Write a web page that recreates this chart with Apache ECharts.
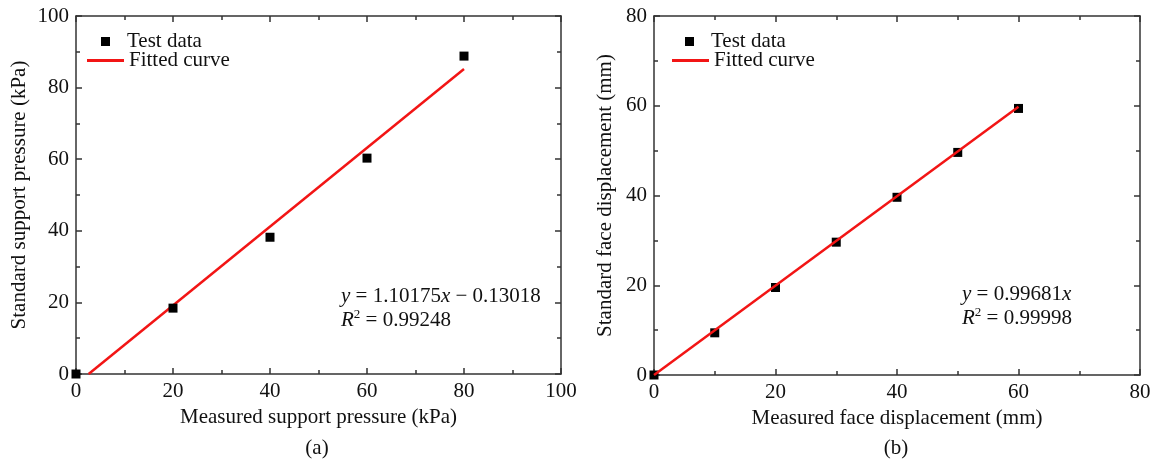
<!DOCTYPE html>
<html>
<head>
<meta charset="utf-8">
<script src="https://cdn.jsdelivr.net/npm/echarts@6/dist/echarts.min.js"></script>
<style>
  html, body { margin: 0; padding: 0; background: #fff; }
  #chart { width: 1159px; height: 460px; }
</style>
</head>
<body>
<div id="chart"></div>
<script>
// (a) support pressure calibration
const pressureMeasured = [0, 20, 40, 60, 80];
const pressureStandard = [0, 18.4, 38.2, 60.3, 88.8];
const pressureFitX = [2.6, 80];
const pressureFitY = [0, 85.2];

// (b) face displacement calibration
const dispMeasured = [0, 10, 20, 30, 40, 50, 60];
const dispStandard = [0, 9.4, 19.5, 29.6, 39.6, 49.6, 59.4];
const dispFitX = [0, 60];
const dispFitY = [0, 59.8];

const pressureTicks = { min: 0, max: 100, interval: 20 };
const dispTicks = { min: 0, max: 80, interval: 20 };

const FONT = '"Liberation Serif", "Times New Roman", serif';
const FS = 21;
const AXIS_COLOR = '#333';
const TEXT_COLOR = '#111';
const RED = '#f21515';

const pairs = (xs, ys) => xs.map((x, i) => [x, ys[i]]);

function mainAxis(gridIndex, ticks, name, nameGap, position) {
  return {
    type: 'value', gridIndex, position,
    min: ticks.min, max: ticks.max, interval: ticks.interval,
    name, nameLocation: 'middle', nameGap,
    nameTextStyle: { fontFamily: FONT, fontSize: FS, color: TEXT_COLOR },
    axisLine: { show: true, onZero: false, lineStyle: { color: AXIS_COLOR, width: 1.5 } },
    axisTick: { show: true, inside: true, length: 6, lineStyle: { color: AXIS_COLOR, width: 1.5 } },
    minorTick: { show: true, splitNumber: 2, length: 4, lineStyle: { color: AXIS_COLOR, width: 1.5 } },
    axisLabel: { fontFamily: FONT, fontSize: FS, color: TEXT_COLOR, margin: 7 },
    splitLine: { show: false },
    minorSplitLine: { show: false }
  };
}

function mirrorAxis(gridIndex, ticks, position) {
  return {
    type: 'value', gridIndex, position,
    min: ticks.min, max: ticks.max, interval: ticks.interval,
    axisLine: { show: true, onZero: false, lineStyle: { color: AXIS_COLOR, width: 1.5 } },
    axisTick: { show: true, inside: true, length: 6, lineStyle: { color: AXIS_COLOR, width: 1.5 } },
    minorTick: { show: true, splitNumber: 2, length: 4, lineStyle: { color: AXIS_COLOR, width: 1.5 } },
    axisLabel: { show: false },
    splitLine: { show: false }
  };
}

function markerLegend(left) {
  return {
    left, top: 31, padding: 0, orient: 'vertical',
    data: ['Test data'], icon: 'rect', itemWidth: 9, itemHeight: 9,
    selectedMode: false,
    textStyle: { fontFamily: FONT, fontSize: FS, color: TEXT_COLOR, lineHeight: 21, padding: [0, 0, 0, 12] }
  };
}

function lineLegend(left) {
  return {
    left, top: 50, padding: 0, orient: 'vertical',
    data: ['Fitted curve'], icon: 'rect', itemWidth: 37, itemHeight: 3,
    selectedMode: false,
    textStyle: { fontFamily: FONT, fontSize: FS, color: TEXT_COLOR, lineHeight: 21 }
  };
}

function eqText(left, top, line1, line2) {
  return {
    type: 'text', left, top,
    style: {
      text: line1 + '\n' + line2,
      fill: TEXT_COLOR,
      font: FS + 'px ' + FONT,
      lineHeight: 24,
      rich: {
        i: { fontFamily: FONT, fontSize: FS, fontStyle: 'italic', fill: TEXT_COLOR, lineHeight: 24 },
        n: { fontFamily: FONT, fontSize: FS, fill: TEXT_COLOR, lineHeight: 24 },
        sup: { fontFamily: FONT, fontSize: 13, fill: TEXT_COLOR, verticalAlign: 'top', lineHeight: 24, padding: [0, 0, 8, 0] }
      }
    }
  };
}

function caption(x, y, text) {
  return {
    type: 'text', x, y,
    style: { text, fill: TEXT_COLOR, font: FS + 'px ' + FONT, align: 'center', verticalAlign: 'middle' }
  };
}

const option = {
  backgroundColor: '#fff',
  animation: false,
  grid: [
    { left: 76, top: 16, width: 485, height: 358 },
    { left: 654, top: 16, width: 486, height: 359 }
  ],
  xAxis: [
    mainAxis(0, pressureTicks, 'Measured support pressure (kPa)', 33, 'bottom'),
    mirrorAxis(0, pressureTicks, 'top'),
    mainAxis(1, dispTicks, 'Measured face displacement (mm)', 32, 'bottom'),
    mirrorAxis(1, dispTicks, 'top')
  ],
  yAxis: [
    mainAxis(0, pressureTicks, 'Standard support pressure (kPa)', 46, 'left'),
    mirrorAxis(0, pressureTicks, 'right'),
    mainAxis(1, dispTicks, 'Standard face displacement (mm)', 38, 'left'),
    mirrorAxis(1, dispTicks, 'right')
  ],
  legend: [
    markerLegend(101),
    lineLegend(87),
    markerLegend(685),
    lineLegend(672)
  ],
  series: [
    {
      name: 'Fitted curve', type: 'line', xAxisIndex: 0, yAxisIndex: 0,
      data: pairs(pressureFitX, pressureFitY), symbol: 'none',
      lineStyle: { color: RED, width: 2.5 }, itemStyle: { color: RED }, z: 2
    },
    {
      name: 'Test data', type: 'scatter', xAxisIndex: 0, yAxisIndex: 0,
      data: pairs(pressureMeasured, pressureStandard), symbol: 'rect', symbolSize: 9,
      itemStyle: { color: '#000', opacity: 1 }, z: 3
    },
    {
      name: 'Fitted curve', type: 'line', xAxisIndex: 2, yAxisIndex: 2,
      data: pairs(dispFitX, dispFitY), symbol: 'none',
      lineStyle: { color: RED, width: 2.5 }, itemStyle: { color: RED }, z: 3
    },
    {
      name: 'Test data', type: 'scatter', xAxisIndex: 2, yAxisIndex: 2,
      data: pairs(dispMeasured, dispStandard), symbol: 'rect', symbolSize: 9,
      itemStyle: { color: '#000', opacity: 1 }, z: 2
    }
  ],
  graphic: [
    eqText(341, 284, '{i|y}{n| = 1.10175}{i|x}{n| − 0.13018}', '{i|R}{sup|2}{n| = 0.99248}'),
    eqText(962, 282, '{i|y}{n| = 0.99681}{i|x}', '{i|R}{sup|2}{n| = 0.99998}'),
    caption(317, 448, '(a)'),
    caption(896, 448, '(b)')
  ]
};

const chart = echarts.init(document.getElementById('chart'), null, { renderer: 'canvas' });
chart.setOption(option);
</script>
</body>
</html>
